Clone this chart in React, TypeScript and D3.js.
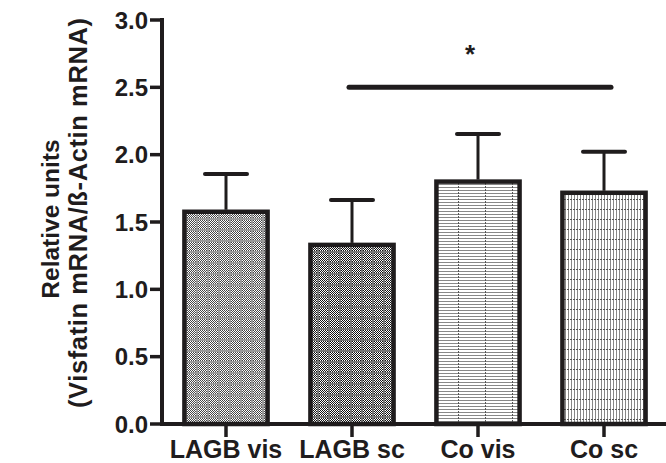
import React from "react";
import * as d3 from "d3";

const categories = ["LAGB vis", "LAGB sc", "Co vis", "Co sc"];
const means = [1.576, 1.33, 1.80, 1.717];
const sems = [0.28, 0.333, 0.353, 0.305];
const patterns = ["checkA", "checkB", "hlines", "vlines"];
const yTicks = [0, 0.5, 1.0, 1.5, 2.0, 2.5, 3.0];
const sigFrom = "LAGB sc";
const sigTo = "Co sc";
const sigValue = 2.5;
const sigLabel = "*";
const titleLines = ["Relative units", "(Visfatin mRNA/ß-Actin mRNA)"];

const W = 666;
const H = 463;
const INK = "#1f1c1d";
const FONT = "'Liberation Sans', Arial, sans-serif";

export default function App() {
  const x = d3.scaleBand<string>().domain(categories).range([163, 667]).paddingInner(0.34).paddingOuter(0.17);
  const y = d3.scaleLinear().domain([0, 3]).range([424, 20]);
  const x0 = 162;
  const y0 = y(0);
  const bw = x.bandwidth();
  const cx = (c: string) => (x(c) as number) + bw / 2;

  return (
    <svg width={W} height={H} style={{ position: "absolute", left: 0, top: 0, background: "#fff" }}>
      <defs>
        <pattern id="checkA" width="11" height="11" patternUnits="userSpaceOnUse">
          <rect width="11" height="11" fill="#fff" />
          {d3.range(9).flatMap((i) =>
            d3.range(9).filter((j) => (i + j) % 2 === 0).map((j) => (
              <rect key={`${i}-${j}`} x={i} y={j} width="1" height="1" fill="#444" />
            ))
          )}
          <rect x="9" y="0" width="2" height="11" fill="#9a9a9a" />
          <rect x="0" y="9" width="11" height="2" fill="#9a9a9a" />
        </pattern>
        <pattern id="checkB" width="11" height="11" patternUnits="userSpaceOnUse">
          <rect width="11" height="11" fill="#fff" />
          {d3.range(9).flatMap((i) =>
            d3.range(9).filter((j) => (i + j) % 2 === 0).map((j) => (
              <rect key={`${i}-${j}`} x={i} y={j} width="1" height="1" fill="#111" />
            ))
          )}
          <rect x="9" y="0" width="2" height="11" fill="#777" />
          <rect x="0" y="9" width="11" height="2" fill="#777" />
        </pattern>
        <pattern id="hlines" width="27" height="3" patternUnits="userSpaceOnUse">
          <rect width="27" height="3" fill="#fff" />
          <rect x="0" y="1" width="27" height="1" fill="#888" />
          <rect x="26" y="0" width="1" height="2" fill="#555" />
        </pattern>
        <pattern id="vlines" width="3" height="10" patternUnits="userSpaceOnUse">
          <rect width="3" height="10" fill="#fff" />
          <rect x="1" y="0" width="1" height="10" fill="#888" />
          <rect x="0" y="9" width="2" height="1" fill="#555" />
        </pattern>
      </defs>

      {/* bars */}
      {categories.map((c, i) => (
        <rect
          key={c}
          x={x(c)}
          y={y(means[i])}
          width={bw}
          height={y0 - y(means[i])}
          fill={`url(#${patterns[i]})`}
          stroke={INK}
          strokeWidth={4.5}
        />
      ))}

      {/* error bars */}
      {categories.map((c, i) => (
        <g key={`e-${c}`} stroke={INK}>
          <line x1={cx(c)} x2={cx(c)} y1={y(means[i]) - 2} y2={y(means[i] + sems[i])} strokeWidth={3} />
          <line
            x1={cx(c) - 21}
            x2={cx(c) + 21}
            y1={y(means[i] + sems[i])}
            y2={y(means[i] + sems[i])}
            strokeWidth={4}
            strokeLinecap="round"
          />
        </g>
      ))}

      {/* y axis */}
      <line x1={x0} x2={x0} y1={y(3) - 2} y2={y0 + 2} stroke={INK} strokeWidth={4} />
      {yTicks.map((t) => (
        <g key={`yt-${t}`}>
          <line x1={x0 - 12} x2={x0} y1={y(t)} y2={y(t)} stroke={INK} strokeWidth={3.5} />
          <text
            x={x0 - 14}
            y={y(t)}
            dy="0.36em"
            textAnchor="end"
            fontFamily={FONT}
            fontWeight="bold"
            fontSize={24}
            fill={INK}
          >
            {t.toFixed(1)}
          </text>
        </g>
      ))}

      {/* x axis */}
      <line x1={x0 - 2} x2={W} y1={y0} y2={y0} stroke={INK} strokeWidth={4} />
      {categories.map((c) => (
        <g key={`xt-${c}`}>
          <line x1={cx(c)} x2={cx(c)} y1={y0} y2={y0 + 13} stroke={INK} strokeWidth={3.5} />
          <text
            x={cx(c)}
            y={458}
            textAnchor="middle"
            fontFamily={FONT}
            fontWeight="bold"
            fontSize={25}
            fill={INK}
          >
            {c}
          </text>
        </g>
      ))}

      {/* significance */}
      <line
        x1={cx(sigFrom) - 3}
        x2={cx(sigTo) + 7}
        y1={y(sigValue)}
        y2={y(sigValue)}
        stroke={INK}
        strokeWidth={5}
        strokeLinecap="round"
      />
      <text
        x={(cx(sigFrom) + cx(sigTo)) / 2 - 8}
        y={63}
        textAnchor="middle"
        fontFamily={FONT}
        fontWeight="bold"
        fontSize={26}
        fill={INK}
      >
        {sigLabel}
      </text>

      {/* y title */}
      <g transform={`translate(0, 216) rotate(-90)`}>
        <text
          x={-3}
          y={59}
          textAnchor="middle"
          fontFamily={FONT}
          fontWeight="bold"
          fontSize={24.5}
          fill={INK}
        >
          {titleLines[0]}
        </text>
        <text
          x={3}
          y={87}
          textAnchor="middle"
          fontFamily={FONT}
          fontWeight="bold"
          fontSize={25.5}
          textLength={390}
          lengthAdjust="spacing"
          fill={INK}
        >
          {titleLines[1]}
        </text>
      </g>
    </svg>
  );
}
